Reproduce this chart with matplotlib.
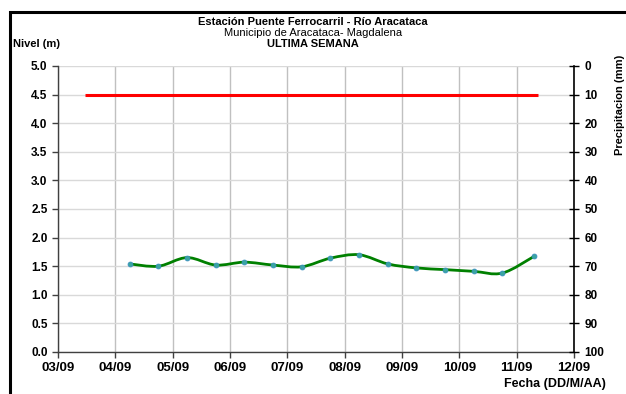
import matplotlib
matplotlib.use("Agg")
import matplotlib.pyplot as plt
import numpy as np
from matplotlib.path import Path
from matplotlib.patches import PathPatch, Rectangle

plt.rcParams["font.family"] = ["Liberation Sans", "DejaVu Sans"]

# dias de septiembre (fraccion de dia) y nivel (m)
fecha = [4.25, 4.75, 5.25, 5.75, 6.25, 6.75, 7.25, 7.75, 8.25, 8.75,
         9.25, 9.75, 10.25, 10.75, 11.3]
nivel = [1.54, 1.50, 1.65, 1.52, 1.57, 1.52, 1.49, 1.64, 1.70, 1.54,
         1.47, 1.44, 1.41, 1.38, 1.67]

# nivel de alerta
alerta_x = [3.47, 11.37]
alerta_y = [4.5, 4.5]

xticks = [3, 4, 5, 6, 7, 8, 9, 10, 11, 12]
xlabels = ["03/09", "04/09", "05/09", "06/09", "07/09", "08/09",
           "09/09", "10/09", "11/09", "12/09"]
yticks = [0.0, 0.5, 1.0, 1.5, 2.0, 2.5, 3.0, 3.5, 4.0, 4.5, 5.0]
precip_ticks = [0, 10, 20, 30, 40, 50, 60, 70, 80, 90, 100]


def smooth_path(xs, ys, t=1 / 6):
    """Curva suavizada tipo Excel (Catmull-Rom como Bezier cubica)."""
    xs = np.asarray(xs, float)
    ys = np.asarray(ys, float)
    pts = np.column_stack([xs, ys])
    verts = [pts[0]]
    codes = [Path.MOVETO]
    n = len(pts)
    for i in range(n - 1):
        p0 = pts[max(i - 1, 0)]
        p1 = pts[i]
        p2 = pts[i + 1]
        p3 = pts[min(i + 2, n - 1)]
        c1 = p1 + (p2 - p0) * t
        c2 = p2 - (p3 - p1) * t
        verts += [c1, c2, p2]
        codes += [Path.CURVE4] * 3
    return Path(verts, codes)


fig = plt.figure(figsize=(6.26, 3.94), dpi=100)
ax = fig.add_axes([0.0927, 0.1066, 0.8243, 0.7259])

ax.set_xlim(3, 12)
ax.set_ylim(0, 5)
ax.set_xticks(xticks)
ax.set_xticklabels(xlabels)
ax.set_yticks(yticks)
ax.set_yticklabels([f"{v:.1f}" for v in yticks])

ax.grid(axis="x", color="#c0c0c0", linewidth=1.0)
ax.grid(axis="y", color="#d9d9d9", linewidth=1.0)
ax.set_axisbelow(True)

for s in ["top", "right"]:
    ax.spines[s].set_visible(False)
for s in ["left", "bottom"]:
    ax.spines[s].set_color("#404040")
    ax.spines[s].set_linewidth(1.0)

ax.tick_params(axis="both", direction="out", length=4, width=1, color="#404040",
               labelsize=8.5)
ax.tick_params(axis="x", labelsize=9.5, pad=3)
for lab in ax.get_xticklabels() + ax.get_yticklabels():
    lab.set_fontweight("bold")

ax.plot(alerta_x, alerta_y, color="#ff0000", linewidth=2.2, solid_capstyle="butt")

ax.add_patch(PathPatch(smooth_path(fecha, nivel), facecolor="none",
                       edgecolor="#008000", linewidth=2.0, zorder=3))
ax.plot(fecha, nivel, linestyle="none", marker="o", markersize=3.5,
        markerfacecolor="#3aa6a0", markeredgecolor="#3a8fc0",
        markeredgewidth=0.6, zorder=4)

ax2 = ax.twinx()
ax2.set_ylim(100, 0)
ax2.set_yticks(precip_ticks)
for s in ["top", "left", "bottom"]:
    ax2.spines[s].set_visible(False)
ax2.spines["right"].set_color("black")
ax2.spines["right"].set_linewidth(1.2)
ax2.tick_params(axis="y", direction="inout", length=7, width=1, labelsize=8.5, pad=4)
for lab in ax2.get_yticklabels():
    lab.set_fontweight("bold")

fig.text(0.5, 0.944, "Estación Puente Ferrocarril - Río Aracataca", ha="center",
         va="center", fontsize=8, fontweight="bold")
fig.text(0.5, 0.916, "Municipio de Aracataca- Magdalena", ha="center",
         va="center", fontsize=8)
fig.text(0.5, 0.888, "ULTIMA SEMANA", ha="center", va="center", fontsize=8,
         fontweight="bold")
fig.text(0.021, 0.889, "Nivel (m)", ha="left", va="center", fontsize=8,
         fontweight="bold")
fig.text(0.99, 0.735, "Precipitacion (mm)", ha="center", va="center",
         rotation=90, fontsize=8, fontweight="bold")
fig.text(0.968, 0.025, "Fecha (DD/M/AA)", ha="right", va="center",
         fontsize=9, fontweight="bold")

fig.add_artist(Rectangle((10 / 626, -0.05), 1.1, 1.05 - 11.5 / 394,
                         transform=fig.transFigure, fill=False,
                         edgecolor="black", linewidth=2.2, clip_on=False))

fig.savefig("out.png", dpi=100)
